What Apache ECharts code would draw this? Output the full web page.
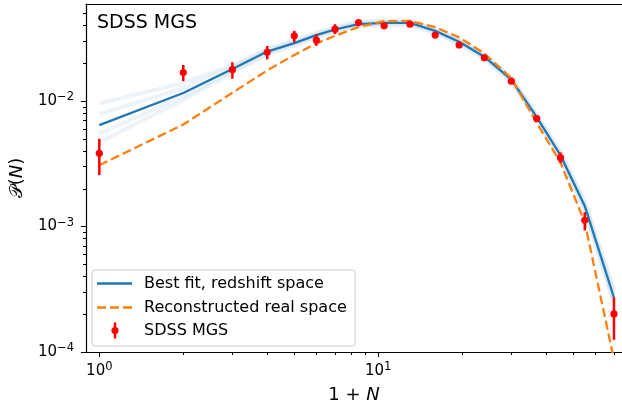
<!DOCTYPE html>
<html>
<head>
<meta charset="utf-8">
<script src="https://cdn.jsdelivr.net/npm/echarts@6/dist/echarts.min.js"></script>
<style>html,body{margin:0;padding:0;background:#fff}#c{width:622px;height:409px}</style>
</head>
<body>
<div id="c"></div>
<script>
// ---- data (1+N bins) ----
var xVals      = [1, 2, 3, 4, 5, 6, 7, 8.5, 10.5, 13, 16, 19.5, 24, 30, 37, 45, 55, 70];
var sdssVals   = [3.84e-3, 1.69e-2, 1.78e-2, 2.45e-2, 3.31e-2, 3.06e-2, 3.74e-2, 4.23e-2, 3.98e-2, 4.10e-2, 3.36e-2, 2.80e-2, 2.21e-2, 1.44e-2, 7.26e-3, 3.54e-3, 1.12e-3, 2.01e-4];
var sdssLo     = [2.57e-3, 1.44e-2, 1.51e-2, 2.15e-2, 2.94e-2, 2.76e-2, 3.42e-2, 4.00e-2, 3.80e-2, 3.95e-2, 3.25e-2, 2.70e-2, 2.13e-2, 1.38e-2, 6.90e-3, 3.20e-3, 9.30e-4, 1.25e-4];
var sdssHi     = [5.00e-3, 1.94e-2, 2.04e-2, 2.75e-2, 3.63e-2, 3.42e-2, 4.10e-2, 4.45e-2, 4.15e-2, 4.25e-2, 3.48e-2, 2.90e-2, 2.29e-2, 1.50e-2, 7.65e-3, 3.90e-3, 1.30e-3, 2.73e-4];
var bestFit    = [6.43e-3, 1.16e-2, 1.80e-2, 2.48e-2, 2.90e-2, 3.36e-2, 3.72e-2, 4.10e-2, 4.20e-2, 4.20e-2, 3.63e-2, 2.97e-2, 2.26e-2, 1.48e-2, 7.46e-3, 3.70e-3, 1.46e-3, 2.72e-4];
var realSpace  = [3.08e-3, 6.50e-3, 1.165e-2, 1.756e-2, 2.33e-2, 2.88e-2, 3.31e-2, 3.90e-2, 4.33e-2, 4.35e-2, 3.88e-2, 3.22e-2, 2.40e-2, 1.52e-2, 6.71e-3, 3.24e-3, 1.08e-3, 8.7e-5];
var bandUpper    = [9.58e-3, 1.39e-2, 1.94e-2, 2.62e-2, 3.04e-2, 3.52e-2, 3.89e-2, 4.29e-2, 4.40e-2, 4.40e-2, 3.80e-2, 3.11e-2, 2.37e-2, 1.55e-2, 7.88e-3, 3.98e-3, 1.60e-3, 3.15e-4];
var bandUpperMid = [7.85e-3, 1.27e-2, 1.87e-2, 2.55e-2, 2.97e-2, 3.44e-2, 3.81e-2, 4.19e-2, 4.30e-2, 4.30e-2, 3.71e-2, 3.04e-2, 2.31e-2, 1.51e-2, 7.67e-3, 3.84e-3, 1.53e-3, 2.93e-4];
var bandLowerMid = [5.50e-3, 1.09e-2, 1.74e-2, 2.41e-2, 2.83e-2, 3.28e-2, 3.64e-2, 4.01e-2, 4.11e-2, 4.11e-2, 3.55e-2, 2.90e-2, 2.21e-2, 1.45e-2, 7.26e-3, 3.57e-3, 1.40e-3, 2.53e-4];
var bandLower    = [4.71e-3, 1.02e-2, 1.67e-2, 2.35e-2, 2.77e-2, 3.21e-2, 3.55e-2, 3.92e-2, 4.01e-2, 4.01e-2, 3.47e-2, 2.84e-2, 2.16e-2, 1.41e-2, 7.06e-3, 3.44e-3, 1.33e-3, 2.35e-4];

// ---- ticks ----
var xMajorTicks = [1, 10];
var xMinorTicks = [2, 3, 4, 5, 6, 7, 8, 9, 20, 30, 40, 50, 60, 70];
var yMajorTicks = [1e-4, 1e-3, 1e-2];
var yMinorTicks = [2e-4, 3e-4, 4e-4, 5e-4, 6e-4, 7e-4, 8e-4, 9e-4, 2e-3, 3e-3, 4e-3, 5e-3, 6e-3, 7e-3, 8e-3, 9e-3, 2e-2, 3e-2, 4e-2, 5e-2];

var X_MIN = 0.896, X_MAX = 74.8, Y_MIN = 1e-4, Y_MAX = 0.0594;
var FONT = 'DejaVu Sans';

function pairs(ys) { return xVals.map(function (x, i) { return [x, ys[i]]; }); }
function powLabel(v) {
  var e = Math.round(Math.log10(v));
  var s = e < 0 ? '\u2212' + (-e) : '' + e;
  return '{b|10}{s|' + s + '}';
}
var rich = {
  b: { fontFamily: FONT, fontSize: 15, color: '#000' },
  s: { fontFamily: FONT, fontSize: 11.5, color: '#000', padding: [0, 0, 8, 0] }
};
var nameStyle = { fontFamily: FONT, fontSize: 18, color: '#000', rich: { i: { fontFamily: FONT, fontSize: 18, fontStyle: 'italic', color: '#000' } } };
var spine = { show: true, lineStyle: { color: '#000', width: 1.2 } };

function mkX(ticks, len, labels, pos, line) {
  return {
    type: 'log', gridIndex: 0, min: X_MIN, max: X_MAX, logBase: 10,
    position: pos || 'bottom',
    axisLine: line ? spine : { show: false },
    splitLine: { show: false },
    minorTick: { show: false },
    axisTick: ticks ? { show: true, inside: false, length: len, lineStyle: { color: '#000', width: 1 }, customValues: ticks } : { show: false },
    axisLabel: labels ? { show: true, customValues: ticks, formatter: powLabel, rich: rich, margin: 9 } : { show: false },
    name: labels ? '1 + {i|N}' : '',
    nameLocation: 'middle', nameGap: 34,
    nameTextStyle: nameStyle
  };
}
function mkY(ticks, len, labels, line) {
  return {
    type: 'log', gridIndex: 0, min: Y_MIN, max: Y_MAX, logBase: 10,
    position: 'left',
    axisLine: line ? spine : { show: false },
    splitLine: { show: false },
    minorTick: { show: false },
    axisTick: { show: true, inside: false, length: len, lineStyle: { color: '#000', width: 1 }, customValues: ticks },
    axisLabel: labels ? { show: true, customValues: ticks, formatter: powLabel, rich: rich, margin: 12 } : { show: false },
    name: labels ? '\uD835\uDCAB({i|N})' : '',
    nameLocation: 'middle', nameGap: 60, nameRotate: 90,
    nameTextStyle: nameStyle
  };
}

function bandSeries(arr) {
  return {
    type: 'line', data: pairs(arr), showSymbol: false, symbol: 'none',
    lineStyle: { color: 'rgba(31,119,180,0.08)', width: 4 }, z: 1, silent: true
  };
}

var chart = echarts.init(document.getElementById('c'), null, { renderer: 'canvas' });
chart.setOption({
  animation: false,
  backgroundColor: '#fff',
  grid: { left: 84, top: 4, right: 0, bottom: 55, show: false },
  xAxis: [mkX(xMajorTicks, 5, true, 'bottom', true), mkX(xMinorTicks, 3, false, 'bottom', false), mkX(null, 0, false, 'top', true)],
  yAxis: [mkY(yMajorTicks, 5, true, true), mkY(yMinorTicks, 3, false, false)],
  series: [
    bandSeries(bandUpper), bandSeries(bandUpperMid), bandSeries(bandLowerMid), bandSeries(bandLower),
    { type: 'line', name: 'Best fit, redshift space', data: pairs(bestFit), symbol: 'none',
      lineStyle: { color: '#1f77b4', width: 2.3 }, z: 3 },
    { type: 'line', name: 'Reconstructed real space', data: pairs(realSpace), symbol: 'none',
      lineStyle: { color: '#ff7f0e', width: 2.3, type: [9, 4] }, z: 4 },
    { type: 'custom', name: 'SDSS MGS', z: 5,
      data: xVals.map(function (x, i) { return [x, sdssVals[i], sdssLo[i], sdssHi[i]]; }),
      encode: { x: 0, y: 1 },
      renderItem: function (params, api) {
        var p = api.coord([api.value(0), api.value(1)]);
        var lo = api.coord([api.value(0), api.value(2)]);
        var hi = api.coord([api.value(0), api.value(3)]);
        return { type: 'group', children: [
          { type: 'line', shape: { x1: p[0], y1: lo[1], x2: p[0], y2: hi[1] }, style: { stroke: '#ff0000', lineWidth: 2.5 } },
          { type: 'circle', shape: { cx: p[0], cy: p[1], r: 3.6 }, style: { fill: '#ff0000' } }
        ] };
      }
    }
  ],
  graphic: [
    { type: 'text', left: 97, top: 14, style: { text: 'SDSS MGS', font: '19px "DejaVu Sans"', fill: '#000' } },
    { type: 'rect', shape: { x: 92, y: 270, width: 263, height: 76, r: 3 }, style: { fill: 'rgba(255,255,255,0.8)', stroke: '#cccccc', lineWidth: 1 }, z: 10 },
    { type: 'line', shape: { x1: 97, y1: 283.5, x2: 132, y2: 283.5 }, style: { stroke: '#1f77b4', lineWidth: 2.3 }, z: 11 },
    { type: 'line', shape: { x1: 97, y1: 307.5, x2: 132, y2: 307.5 }, style: { stroke: '#ff7f0e', lineWidth: 2.3, lineDash: [9, 4] }, z: 11 },
    { type: 'line', shape: { x1: 115, y1: 322.5, x2: 115, y2: 338.5 }, style: { stroke: '#ff0000', lineWidth: 2.5 }, z: 11 },
    { type: 'circle', shape: { cx: 115, cy: 330.5, r: 3.6 }, style: { fill: '#ff0000' }, z: 11 },
    { type: 'text', x: 144, y: 283.5, style: { text: 'Best fit, redshift space', font: '16px "DejaVu Sans"', fill: '#000', verticalAlign: 'middle' }, z: 11 },
    { type: 'text', x: 144, y: 307.5, style: { text: 'Reconstructed real space', font: '16px "DejaVu Sans"', fill: '#000', verticalAlign: 'middle' }, z: 11 },
    { type: 'text', x: 144, y: 330.5, style: { text: 'SDSS MGS', font: '16px "DejaVu Sans"', fill: '#000', verticalAlign: 'middle' }, z: 11 }
  ]
});
</script>
</body>
</html>
